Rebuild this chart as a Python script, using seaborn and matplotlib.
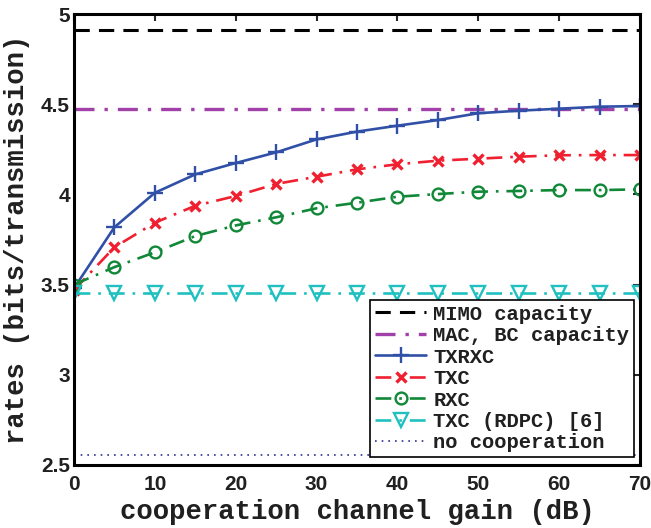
import matplotlib
matplotlib.use("Agg")
import matplotlib.pyplot as plt
import seaborn as sns
import pandas as pd
import numpy as np

gain_db = [0, 5, 10, 15, 20, 25, 30, 35, 40, 45, 50, 55, 60, 65, 70]
txrxc = [3.48, 3.818, 4.009, 4.111, 4.174, 4.233, 4.305, 4.348, 4.381, 4.412, 4.450, 4.464, 4.475, 4.486, 4.490]
txc = [3.47, 3.707, 3.843, 3.937, 3.991, 4.058, 4.098, 4.139, 4.167, 4.187, 4.198, 4.209, 4.217, 4.218, 4.218]
rxc = [3.50, 3.597, 3.679, 3.769, 3.828, 3.873, 3.923, 3.954, 3.987, 4.002, 4.015, 4.019, 4.024, 4.024, 4.028]
txc_rdpc = [3.456] * 15
mimo_cap = 4.913
macbc_cap = 4.475
no_coop = 2.555

sns.set_style("white")
plt.rcParams["font.family"] = ["Liberation Sans", "DejaVu Sans"]

fig = plt.figure(figsize=(6.51, 5.28), dpi=100)
# axes: left 74px, right 640px, top 14px, bottom 465px
ax = fig.add_axes([74 / 651, 1 - 465 / 528, 566 / 651, 451 / 528])

df = pd.DataFrame({"x": gain_db, "txrxc": txrxc, "txc": txc, "rxc": rxc,
                   "rdpc": txc_rdpc,
                   "mimo": [mimo_cap] * len(gain_db),
                   "macbc": [macbc_cap] * len(gain_db),
                   "nocoop": [no_coop] * len(gain_db)})

lw = 1.9
blue = "#3050a8"
red = "#f02030"
green = "#108838"
cyan = "#20c0c0"

sns.lineplot(data=df, x="x", y="mimo", ax=ax, color="black", lw=2.2,
             label="MIMO capacity").lines[-1].set_dashes([5, 3])
l = sns.lineplot(data=df, x="x", y="macbc", ax=ax, color="#a040a8", lw=2.4,
                 label="MAC, BC capacity").lines[-1]
l.set_dashes([6, 3, 1, 3])
sns.lineplot(data=df, x="x", y="txrxc", ax=ax, color=blue, lw=lw,
             marker="+", markersize=11, markeredgewidth=1.7,
             markeredgecolor=blue, label="TXRXC")
l = sns.lineplot(data=df, x="x", y="txc", ax=ax, color=red, lw=lw,
                 marker="x", markersize=7, markeredgewidth=2.4,
                 markeredgecolor=red, label="TXC").lines[-1]
l.set_dashes([6, 3, 1, 3])
l = sns.lineplot(data=df, x="x", y="rxc", ax=ax, color=green, lw=lw,
                 marker="o", markersize=8.5, markerfacecolor="none",
                 markeredgewidth=1.7, markeredgecolor=green, label="RXC").lines[-1]
l.set_dashes([6, 3, 1, 3])
l = sns.lineplot(data=df, x="x", y="rdpc", ax=ax, color=cyan, lw=lw,
                 marker="v", markersize=10, markerfacecolor="none",
                 markeredgewidth=1.7, markeredgecolor=cyan,
                 label="TXC (RDPC) [6]").lines[-1]
l.set_dashes([6, 3, 1, 3])
l = sns.lineplot(data=df, x="x", y="nocoop", ax=ax, color="#303090", lw=1.2,
                 label="no cooperation").lines[-1]
l.set_dashes([1, 3])

ax.set_xlim(0, 70)
ax.set_ylim(2.5, 5)
ax.set_xticks(range(0, 71, 10))
ax.set_yticks([2.5, 3, 3.5, 4, 4.5, 5])
ax.set_yticklabels(["2.5", "3", "3.5", "4", "4.5", "5"])
ax.tick_params(direction="in", length=5, width=1.5, top=True, right=True,
               labelsize=15, labelcolor="#202020")
ax.tick_params(axis="x", pad=7)
ax.tick_params(axis="y", pad=3)
for t in ax.get_xticklabels() + ax.get_yticklabels():
    t.set_fontweight("bold")
for s in ax.spines.values():
    s.set_linewidth(2.2)
    s.set_color("black")

mono = ["Liberation Mono", "DejaVu Sans Mono"]
ax.set_xlabel("cooperation channel gain (dB)", family=mono, fontweight="bold",
              fontsize=19.6, labelpad=3.5, color="#202020")
ax.set_ylabel("rates (bits/transmission)", family=mono, fontweight="bold",
              fontsize=19.6, labelpad=7.5, color="#202020")

leg = ax.legend(loc="lower right", prop={"family": mono, "weight": "bold", "size": 14.8},
                frameon=True, fancybox=False, borderaxespad=0.0,
                handlelength=2.5, labelspacing=0.12, borderpad=0.22,
                handletextpad=0.35, bbox_to_anchor=(1 - 6 / 566, 8 / 451))
leg.get_frame().set_edgecolor("black")
leg.get_frame().set_linewidth(1.2)
leg.get_frame().set_alpha(1)
for t in leg.get_texts():
    t.set_color("#202020")

fig.savefig("out.png", dpi=100)
